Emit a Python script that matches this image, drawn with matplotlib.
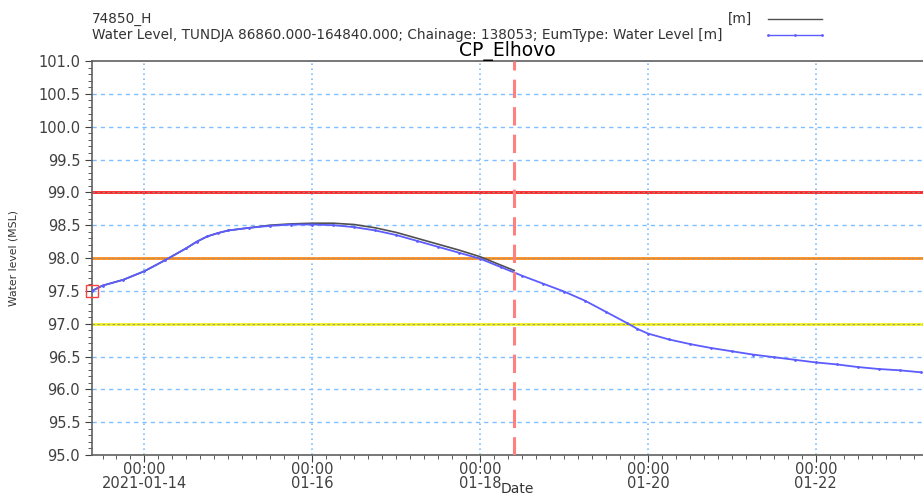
import numpy as np
import pandas as pd
import matplotlib
matplotlib.use('Agg')
import matplotlib.pyplot as plt
import matplotlib.dates as mdates
from matplotlib.lines import Line2D

plt.rcParams['font.family'] = ['DejaVu Sans']

# forecast (blue) series
fc_times = pd.to_datetime([
    '2021-01-13 09:00', '2021-01-13 12:00', '2021-01-13 18:00', '2021-01-14 00:00',
    '2021-01-14 06:00', '2021-01-14 12:00', '2021-01-14 15:00', '2021-01-14 18:00',
    '2021-01-14 21:00', '2021-01-15 00:00', '2021-01-15 06:00', '2021-01-15 12:00',
    '2021-01-15 18:00', '2021-01-16 00:00', '2021-01-16 06:00', '2021-01-16 12:00',
    '2021-01-16 18:00', '2021-01-17 00:00', '2021-01-17 06:00', '2021-01-17 12:00',
    '2021-01-17 18:00', '2021-01-18 00:00', '2021-01-18 06:00', '2021-01-18 12:00',
    '2021-01-18 18:00', '2021-01-19 00:00', '2021-01-19 06:00', '2021-01-19 12:00',
    '2021-01-19 18:00', '2021-01-19 21:00', '2021-01-20 00:00', '2021-01-20 06:00',
    '2021-01-20 12:00', '2021-01-20 18:00', '2021-01-21 00:00', '2021-01-21 06:00',
    '2021-01-21 12:00', '2021-01-21 18:00', '2021-01-22 00:00', '2021-01-22 06:00',
    '2021-01-22 12:00', '2021-01-22 18:00', '2021-01-23 00:00', '2021-01-23 06:00'])
fc_level = [97.50, 97.58, 97.67, 97.80, 97.97, 98.15, 98.25, 98.33,
            98.38, 98.42, 98.46, 98.49, 98.51, 98.51, 98.50, 98.47,
            98.42, 98.35, 98.26, 98.17, 98.08, 97.99, 97.86, 97.73,
            97.61, 97.49, 97.35, 97.18, 97.01, 96.92, 96.85, 96.76,
            96.69, 96.63, 96.58, 96.53, 96.49, 96.45, 96.41, 96.38,
            96.34, 96.31, 96.29, 96.26]

# observed (black) series up to time of forecast
obs_times = pd.to_datetime([
    '2021-01-13 09:00', '2021-01-13 12:00', '2021-01-13 18:00', '2021-01-14 00:00',
    '2021-01-14 06:00', '2021-01-14 12:00', '2021-01-14 15:00', '2021-01-14 18:00',
    '2021-01-14 21:00', '2021-01-15 00:00', '2021-01-15 06:00', '2021-01-15 12:00',
    '2021-01-15 18:00', '2021-01-16 00:00', '2021-01-16 06:00', '2021-01-16 12:00',
    '2021-01-16 18:00', '2021-01-17 00:00', '2021-01-17 06:00', '2021-01-17 12:00',
    '2021-01-17 18:00', '2021-01-18 00:00', '2021-01-18 06:00', '2021-01-18 09:45'])
obs_level = [97.50, 97.58, 97.67, 97.80, 97.97, 98.15, 98.25, 98.33,
             98.38, 98.42, 98.46, 98.50, 98.52, 98.53, 98.53, 98.51,
             98.46, 98.39, 98.30, 98.21, 98.12, 98.02, 97.89, 97.81]

tof = pd.Timestamp('2021-01-18 09:45')
thresholds = [99.0, 98.0, 97.0]
thr_colors = ['#ff2020', '#ff8c1a', '#f0f020']

fig = plt.figure(figsize=(9.23, 4.94), dpi=100)
ax = fig.add_axes([0.0997, 0.0789, 0.9003, 0.7976])

x0 = pd.Timestamp('2021-01-13 09:00')
x1 = pd.Timestamp('2021-01-23 06:40')
ax.set_xlim(x0, x1)
ax.set_ylim(95.0, 101.0)

grid_c = '#7fbfff'
for yv in np.arange(95.5, 101.0, 0.5):
    ax.axhline(yv, color=grid_c, lw=1, ls=(0, (3, 3)), zorder=1)
for d in pd.date_range('2021-01-14', '2021-01-22', freq='2D'):
    ax.axvline(d, color=grid_c, lw=1.2, ls=(0, (1, 2)), zorder=1)

for yv, c in zip(thresholds, thr_colors):
    ax.axhline(yv, color=c, lw=2, zorder=2)
    ax.axhline(yv, color='#909090', lw=0.6, ls=(0, (3, 3)), zorder=2.1)

ax.plot(obs_times, obs_level, color='#505050', lw=1.2, zorder=3)
ax.plot(fc_times, fc_level, color='#5c5cff', lw=1.3, marker='.', ms=2, zorder=4)

ax.axvline(tof, color='#ff8080', lw=2.2, ls=(0, (6, 3)), zorder=5)
ax.plot([x0], [97.5], marker='s', ms=8, mfc='none', mec='#ff4040', mew=1, clip_on=False, zorder=6)

ax.xaxis.set_major_locator(mdates.DayLocator(bymonthday=[14, 16, 18, 20, 22]))
ax.xaxis.set_minor_locator(mdates.HourLocator(byhour=[0, 4, 8, 12, 16, 20]))


def fmt_date(v, p):
    d = mdates.num2date(v)
    if d.day == 14:
        return '00:00\n2021-01-14'
    return '00:00\n' + d.strftime('%m-%d')


ax.xaxis.set_major_formatter(plt.FuncFormatter(fmt_date))
ax.set_yticks(np.arange(95.0, 101.01, 0.5))
ax.set_yticks(np.arange(95.0, 101.01, 0.1), minor=True)
ax.yaxis.set_major_formatter(plt.FuncFormatter(lambda v, p: f'{v:.1f}'))

ax.tick_params(axis='both', which='major', labelsize=10.5, colors='#404040', length=5)
ax.tick_params(axis='x', which='major', pad=0)
ax.tick_params(axis='both', which='minor', length=3, colors='#404040')
for lab in ax.get_xticklabels():
    lab.set_linespacing(0.88)
for s in ['left', 'bottom', 'top']:
    ax.spines[s].set_color('#606060')
    ax.spines[s].set_linewidth(1.2)
ax.spines['right'].set_visible(False)

ax.set_ylabel('Water level (MSL)', fontsize=7.8, color='#333333')
ax.yaxis.set_label_coords(-0.088, 0.5)
ax.set_xlabel('Date', fontsize=10, color='#333333', va='top')
ax.xaxis.set_label_coords(0.512, -0.068)
ax.set_title('CP_Elhovo', fontsize=13.5, pad=2)

fig.text(92 / 923, 1 - 19 / 494, '74850_H', fontsize=9.8, color='#333333', va='center')
fig.text(92 / 923, 1 - 35 / 494,
         'Water Level, TUNDJA 86860.000-164840.000; Chainage: 138053; EumType: Water Level [m]',
         fontsize=9.8, color='#333333', va='center')
fig.text(752 / 923, 1 - 19 / 494, '[m]', fontsize=9.8, color='#333333', va='center', ha='right')
fig.add_artist(Line2D([768 / 923, 822 / 923], [1 - 19 / 494] * 2, color='#505050', lw=1))
fig.add_artist(Line2D([768 / 923, 795 / 923, 822 / 923], [1 - 35 / 494] * 3, color='#5c5cff', lw=1,
                      marker='.', ms=2))

fig.savefig('out.png', dpi=100)
